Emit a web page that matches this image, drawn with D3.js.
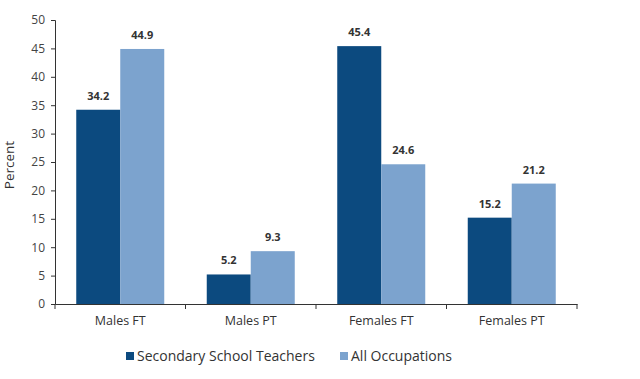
<!DOCTYPE html>
<html><head><meta charset="utf-8">
<script src="https://cdn.jsdelivr.net/npm/d3@7/dist/d3.min.js"></script>
<style>body{margin:0;background:#fff;}svg{display:block;font-family:"Open Sans",sans-serif;}</style>
</head><body><svg id="c" width="640" height="379"></svg>
<script>
const categories = ["Males FT","Males PT","Females FT","Females PT"];
const seriesNames = ["Secondary School Teachers","All Occupations"];
const teachers = [34.2, 5.2, 45.4, 15.2];
const allOcc = [44.9, 9.3, 24.6, 21.2];
const yTicks = [0,5,10,15,20,25,30,35,40,45,50];
const colors = ["#0C4A7F","#7CA3CE"];

(function(){
const svg = d3.select("#c");
const mLeft = 55, mRight = 577, mTop = 20, mBottom = 304;
const x0 = d3.scaleBand().domain(categories).range([mLeft,mRight]).padding(0);
const x1 = d3.scaleBand().domain(seriesNames).range([0,x0.bandwidth()]).paddingInner(0).paddingOuter(0.483);
const y = d3.scaleLinear().domain([0,50]).range([mBottom,mTop]);

const data = categories.map((c,i)=>({cat:c, vals:[teachers[i], allOcc[i]]}));

const g = svg.selectAll("g.cat").data(data).join("g").attr("class","cat").attr("transform",d=>`translate(${x0(d.cat)},0)`);
g.selectAll("rect").data(d=>d.vals.map((v,j)=>({v,s:seriesNames[j],j}))).join("rect")
 .attr("x",d=>x1(d.s)).attr("width",x1.bandwidth())
 .attr("y",d=>y(d.v)).attr("height",d=>y(0)-y(d.v)).attr("fill",d=>colors[d.j]);
g.selectAll("text.lbl").data(d=>d.vals.map((v,j)=>({v,s:seriesNames[j],j}))).join("text")
 .attr("class","lbl").attr("x",d=>x1(d.s)+x1.bandwidth()/2).attr("y",d=>y(d.v)-10)
 .attr("text-anchor","middle").attr("font-size",11).attr("font-weight","bold").attr("fill","#333")
 .text(d=>d.v.toFixed(1));

const ya = svg.append("g").attr("transform",`translate(${mLeft},0)`)
 .call(d3.axisLeft(y).tickValues(yTicks).tickSize(4).tickPadding(6));
ya.select(".domain").attr("stroke","#333");
ya.selectAll(".tick line").attr("stroke","#333");
ya.selectAll(".tick text").attr("font-size",12).attr("fill","#444").attr("font-family","Open Sans, sans-serif");

const xa = svg.append("g").attr("transform",`translate(0,${mBottom})`)
 .call(d3.axisBottom(x0).tickSize(0).tickPadding(12).tickSizeOuter(0));
xa.select(".domain").attr("stroke","#333");
xa.selectAll(".tick text").attr("font-size",12.5).attr("fill","#333").attr("font-family","Open Sans, sans-serif");
const bounds = categories.map(c=>x0(c)).concat([mRight]);
svg.append("g").selectAll("line").data(bounds).join("line")
 .attr("x1",d=>d).attr("x2",d=>d).attr("y1",mBottom).attr("y2",mBottom+5).attr("stroke","#333");

svg.append("text").attr("transform","translate(14,165) rotate(-90)").attr("text-anchor","middle")
 .attr("font-size",13.5).attr("fill","#333").text("Percent");

const leg = svg.append("g").attr("transform","translate(126,356)");
const items = leg.selectAll("g").data(seriesNames).join("g").attr("transform",(d,i)=>`translate(${i*214},0)`);
items.append("rect").attr("x",0).attr("y",-4).attr("width",8).attr("height",8).attr("fill",(d,i)=>colors[i]);
items.append("text").attr("x",11).attr("y",5).attr("font-size",14).attr("fill","#333").text(d=>d);
})();
</script></body></html>
